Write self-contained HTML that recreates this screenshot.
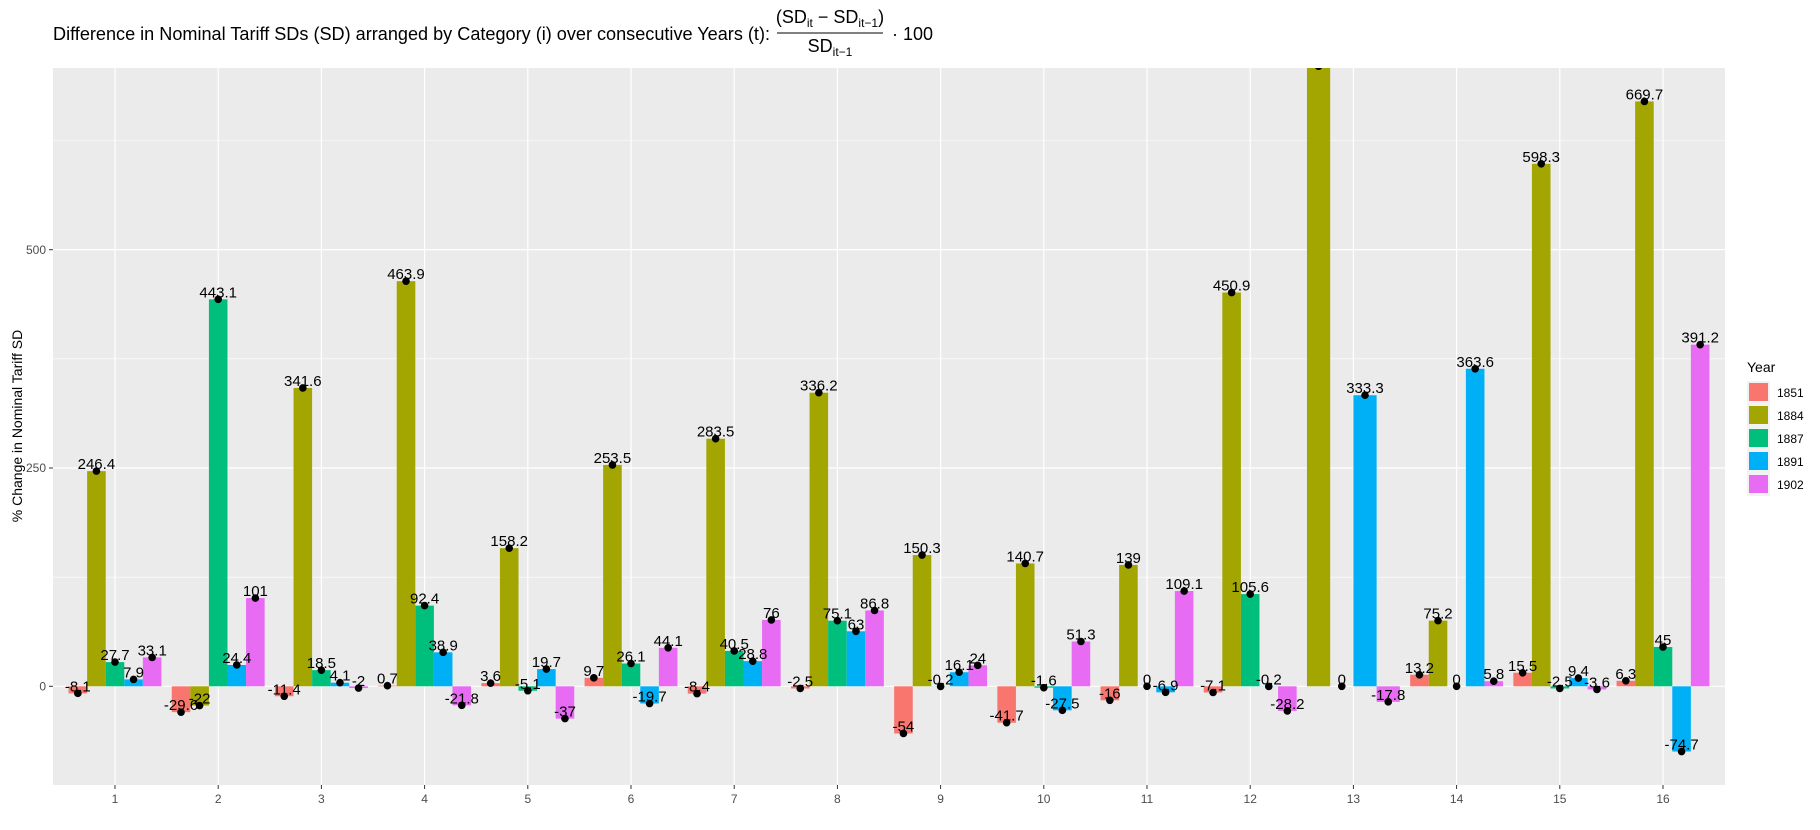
<!DOCTYPE html>
<html><head><meta charset="utf-8"><style>
html,body{margin:0;padding:0;background:#fff;}
svg{display:block;font-family:"Liberation Sans",Arial,sans-serif;}
</style></head><body>
<svg id="s" width="1820" height="830" viewBox="0 0 1820 830" xmlns="http://www.w3.org/2000/svg">
<defs><clipPath id="cp"><rect x="53" y="68" width="1672" height="717"/></clipPath></defs>
<!-- title -->
<text x="53" y="40" font-size="18" fill="#000" textLength="717" lengthAdjust="spacingAndGlyphs">Difference in Nominal Tariff SDs (SD) arranged by Category (i) over consecutive Years (t):</text>
<text x="830" y="23" font-size="18" text-anchor="middle" fill="#000">(SD<tspan font-size="12" dy="4">it</tspan><tspan dy="-4"> − SD</tspan><tspan font-size="12" dy="4">it−1</tspan><tspan dy="-4">)</tspan></text>
<line x1="777" y1="33" x2="883" y2="33" stroke="#000" stroke-width="1"/>
<text x="830" y="52" font-size="18" text-anchor="middle" fill="#000">SD<tspan font-size="12" dy="4">it−1</tspan></text>
<text x="892" y="40" font-size="18" fill="#000">· 100</text>
<!-- panel -->
<rect x="53" y="68" width="1672" height="717" fill="#EBEBEB"/>
<g id="grid"></g>
<g clip-path="url(#cp)"><g id="bars"></g><g id="dots"></g>
<g font-size="15" text-anchor="middle" fill="#000">
<text x="77.8" y="691.4">-8.1</text><text x="96.4" y="469.1">246.4</text><text x="115" y="660.1">27.7</text><text x="133.6" y="677.4">7.9</text><text x="152.2" y="655.4">33.1</text>
<text x="181" y="710.2">-29.6</text><text x="199.6" y="703.5">-22</text><text x="218.2" y="297.3">443.1</text><text x="236.8" y="663">24.4</text><text x="255.4" y="596.1">101</text>
<text x="284.2" y="694.3">-11.4</text><text x="302.8" y="386">341.6</text><text x="321.4" y="668.1">18.5</text><text x="340" y="680.7">4.1</text><text x="358.6" y="686">-2</text>
<text x="387.4" y="683.7">0.7</text><text x="406" y="279.2">463.9</text><text x="424.6" y="603.6">92.4</text><text x="443.2" y="650.3">38.9</text><text x="461.8" y="703.3">-21.8</text>
<text x="490.6" y="681.2">3.6</text><text x="509.2" y="546.1">158.2</text><text x="527.8" y="688.8">-5.1</text><text x="546.4" y="667.1">19.7</text><text x="565" y="716.6">-37</text>
<text x="593.8" y="675.8">9.7</text><text x="612.4" y="462.9">253.5</text><text x="631" y="661.5">26.1</text><text x="649.6" y="701.5">-19.7</text><text x="668.2" y="645.8">44.1</text>
<text x="697" y="691.6">-8.4</text><text x="715.6" y="436.7">283.5</text><text x="734.2" y="648.9">40.5</text><text x="752.8" y="659.2">28.8</text><text x="771.4" y="617.9">76</text>
<text x="800.2" y="686.5">-2.5</text><text x="818.8" y="390.7">336.2</text><text x="837.4" y="618.7">75.1</text><text x="856" y="629.3">63</text><text x="874.6" y="608.5">86.8</text>
<text x="903.4" y="731.5">-54</text><text x="922" y="553">150.3</text><text x="940.6" y="684.5">-0.2</text><text x="959.2" y="670.2">16.1</text><text x="977.8" y="663.3">24</text>
<text x="1006.6" y="720.7">-41.7</text><text x="1025.2" y="561.4">140.7</text><text x="1043.8" y="685.7">-1.6</text><text x="1062.4" y="708.3">-27.5</text><text x="1081" y="639.5">51.3</text>
<text x="1109.8" y="698.3">-16</text><text x="1128.4" y="562.9">139</text><text x="1147" y="684.3">0</text><text x="1165.6" y="690.3">-6.9</text><text x="1184.2" y="589">109.1</text>
<text x="1213" y="690.5">-7.1</text><text x="1231.6" y="290.5">450.9</text><text x="1250.2" y="592.1">105.6</text><text x="1268.8" y="684.5">-0.2</text><text x="1287.4" y="708.9">-28.2</text>
<text x="1341.8" y="684.3">0</text><text x="1365" y="393.2">333.3</text><text x="1388.2" y="699.8">-17.8</text>
<text x="1419.4" y="672.8">13.2</text><text x="1438" y="618.6">75.2</text><text x="1456.6" y="684.3">0</text><text x="1475.2" y="366.8">363.6</text><text x="1493.8" y="679.2">5.8</text>
<text x="1522.6" y="670.8">15.5</text><text x="1541.2" y="161.8">598.3</text><text x="1559.8" y="686.5">-2.5</text><text x="1578.4" y="676.1">9.4</text><text x="1597" y="687.4">-3.6</text>
<text x="1625.8" y="678.8">6.3</text><text x="1644.4" y="99.4">669.7</text><text x="1663" y="645">45</text><text x="1681.6" y="749.5">-74.7</text><text x="1700.2" y="342.7">391.2</text>
</g></g>
<!-- y axis -->
<g font-size="12" fill="#4D4D4D" text-anchor="end">
<text x="46" y="690.5">0</text><text x="46" y="472">250</text><text x="46" y="254">500</text>
</g>
<g stroke="#333" stroke-width="1"><line x1="49" y1="686.3" x2="53" y2="686.3"/><line x1="49" y1="468" x2="53" y2="468"/><line x1="49" y1="249.7" x2="53" y2="249.7"/></g>
<text transform="translate(22,426) rotate(-90)" font-size="14" text-anchor="middle" fill="#000">% Change in Nominal Tariff SD</text>
<g id="xt" font-size="12" fill="#4D4D4D" text-anchor="middle">
<text x="115" y="803">1</text><text x="218.2" y="803">2</text><text x="321.4" y="803">3</text><text x="424.6" y="803">4</text><text x="527.8" y="803">5</text><text x="631" y="803">6</text><text x="734.2" y="803">7</text><text x="837.4" y="803">8</text><text x="940.6" y="803">9</text><text x="1043.8" y="803">10</text><text x="1147" y="803">11</text><text x="1250.2" y="803">12</text><text x="1353.4" y="803">13</text><text x="1456.6" y="803">14</text><text x="1559.8" y="803">15</text><text x="1663" y="803">16</text>
</g>
<g id="xtick" stroke="#333" stroke-width="1"></g>
<!-- legend -->
<text x="1747" y="372" font-size="14" fill="#000">Year</text>
<rect x="1747" y="381" width="23" height="115" fill="#F2F2F2"/>
<rect x="1749" y="383" width="19" height="18" fill="#F8766D"/>
<rect x="1749" y="406" width="19" height="18" fill="#A3A500"/>
<rect x="1749" y="429" width="19" height="18" fill="#00BF7D"/>
<rect x="1749" y="452" width="19" height="18" fill="#00B0F6"/>
<rect x="1749" y="475" width="19" height="18" fill="#E76BF3"/>
<g font-size="12" fill="#000"><text x="1777" y="397">1851</text><text x="1777" y="420">1884</text><text x="1777" y="443">1887</text><text x="1777" y="466">1891</text><text x="1777" y="489">1902</text></g>
</svg>
<script>
var NS="http://www.w3.org/2000/svg";
function el(p,t,a){var e=document.createElementNS(NS,t);for(var k in a)e.setAttribute(k,a[k]);p.appendChild(e);return e;}
var col=["#F8766D","#A3A500","#00BF7D","#00B0F6","#E76BF3"];
var D=[[-8.1,246.4,27.7,7.9,33.1],[-29.6,-22,443.1,24.4,101],[-11.4,341.6,18.5,4.1,-2],[0.7,463.9,92.4,38.9,-21.8],[3.6,158.2,-5.1,19.7,-37],[9.7,253.5,26.1,-19.7,44.1],[-8.4,283.5,40.5,28.8,76],[-2.5,336.2,75.1,63,86.8],[-54,150.3,-0.2,16.1,24],[-41.7,140.7,-1.6,-27.5,51.3],[-16,139,0,-6.9,109.1],[-7.1,450.9,105.6,-0.2,-28.2],[null,710,0,333.3,-17.8],[13.2,75.2,0,363.6,5.8],[15.5,598.3,-2.5,9.4,-3.6],[6.3,669.7,45,-74.7,391.2]];
function Y(v){return 686.3-0.8733*v;}
function X(c){return 115+(c-1)*103.2;}
var g=document.getElementById("grid");
[125,375,625].forEach(function(v){el(g,"line",{x1:53,x2:1725,y1:Y(v),y2:Y(v),stroke:"#fff","stroke-width":0.6});});
[0,250,500].forEach(function(v){el(g,"line",{x1:53,x2:1725,y1:Y(v),y2:Y(v),stroke:"#fff","stroke-width":1.2});});
var xt=document.getElementById("xtick");
for(var c=1;c<=16;c++){el(g,"line",{x1:X(c),x2:X(c),y1:68,y2:785,stroke:"#fff","stroke-width":1.2});el(xt,"line",{x1:X(c),x2:X(c),y1:785,y2:789});}
var B=document.getElementById("bars"),P=document.getElementById("dots");
D.forEach(function(r,i){var c=i+1;var idx=[];r.forEach(function(v,j){if(v!==null)idx.push(j);});
var n=idx.length,w=0.9*103.2/n,x0=X(c)-0.45*103.2;
idx.forEach(function(j,k){var v=r[j],x=x0+k*w,y1=Y(Math.max(v,0)),y2=Y(Math.min(v,0));
el(B,"rect",{x:x,y:y1,width:w,height:Math.max(y2-y1,0),fill:col[j]});
el(P,"circle",{cx:x+w/2,cy:Y(v),r:3.8,fill:"#000"});});});
</script>
</body></html>
